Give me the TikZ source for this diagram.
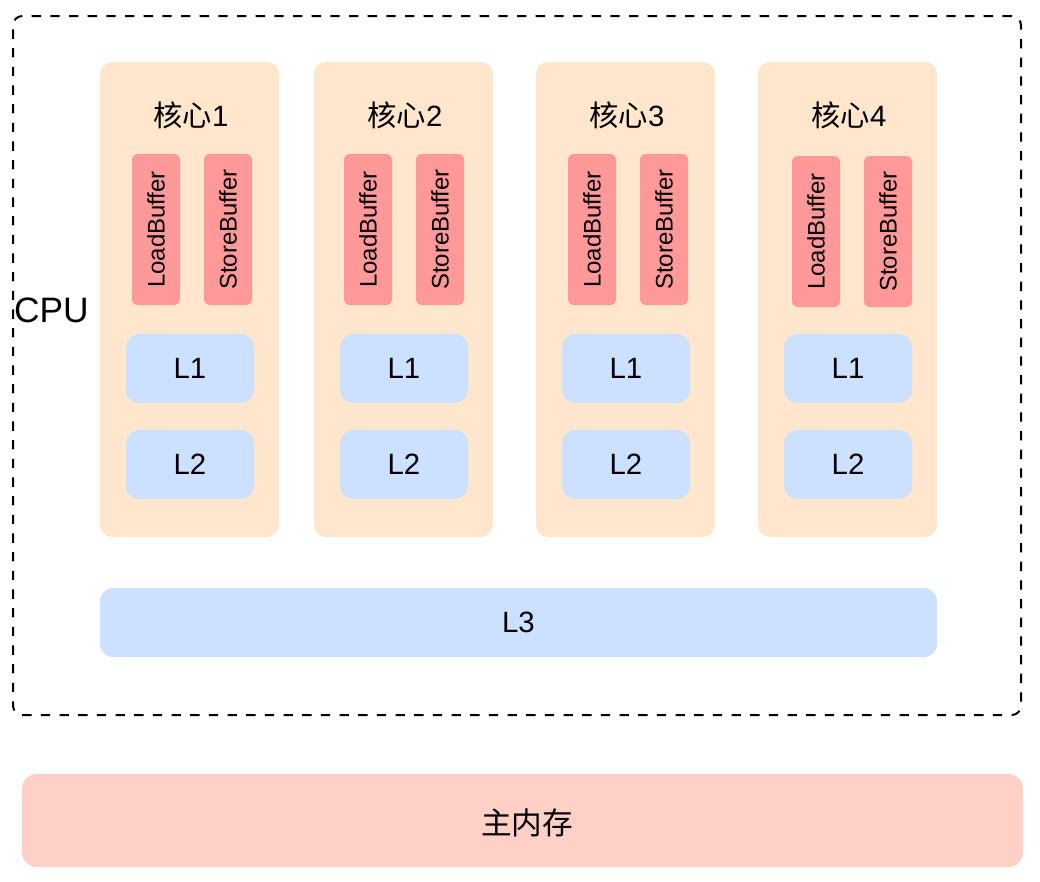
\documentclass[tikz,border=0pt]{standalone}
\usepackage{fontspec}
\setmainfont{Liberation Sans}
\newfontfamily\cjk{Noto Sans CJK SC}
\usetikzlibrary{fit}
\definecolor{corefill}{HTML}{FFE6CC}
\definecolor{buffill}{HTML}{FF9999}
\definecolor{cachefill}{HTML}{CCE0FF}
\definecolor{memfill}{HTML}{FFD0C6}
\begin{document}
\begin{tikzpicture}[x=0.75pt,y=-0.75pt,
  every node/.style={inner sep=0pt,outer sep=0pt},
  cpubox/.style={draw=black,line width=1.5pt,dash pattern=on 7pt off 7pt,rounded corners=7pt},
  corebox/.style={fill=corefill,rounded corners=9pt},
  bufbox/.style={fill=buffill,rounded corners=4pt},
  cachebox/.style={fill=cachefill,rounded corners=10pt},
  membox/.style={fill=memfill,rounded corners=11pt},
  bigtext/.style={font=\fontsize{22}{26}\selectfont},
  buftext/.style={font=\fontsize{18}{21}\selectfont,rotate=90},
  cputext/.style={font=\fontsize{26.5}{31}\selectfont,anchor=west}
]
\useasboundingbox (0,0) rectangle (1040,882);
\node[cpubox,fit={(13,16) (1021,715)}] (cpu) {};
\node[cputext] (cpulabel) at (14,310) {CPU};
\foreach \i/\x/\bx/\dy in {1/100/132/0,2/314/344/0,3/536/568/0,4/758/792/2}{
  \node[corebox,fit={(\x,62) (\x+179,537)}] (core\i) {};
  \node[bigtext] (title\i) at (\x+91,115) {{\cjk 核心}\i};
  \node[bufbox,fit={(\bx,154+\dy) (\bx+48,305+\dy)}] (load\i) {};
  \node[buftext] (loadt\i) at (load\i.center) {LoadBuffer};
  \node[bufbox,fit={(\bx+72,154+\dy) (\bx+120,305+\dy)}] (store\i) {};
  \node[buftext] (storet\i) at (store\i.center) {StoreBuffer};
  \node[cachebox,fit={(\x+26,334) (\x+154,403)}] (l1\i) {};
  \node[bigtext] (l1t\i) at (l1\i.center) {L1};
  \node[cachebox,fit={(\x+26,430) (\x+154,499)}] (l2\i) {};
  \node[bigtext] (l2t\i) at (l2\i.center) {L2};
}
\node[cachebox,fit={(100,588) (937,657)}] (l3) {};
\node[bigtext] (l3t) at (l3.center) {L3};
\node[membox,fit={(22,774) (1023,867)}] (mem) {};
\node[bigtext,font=\cjk\fontsize{23}{27}\selectfont] (memt) at (527,823) {主内存};
\end{tikzpicture}
\end{document}
